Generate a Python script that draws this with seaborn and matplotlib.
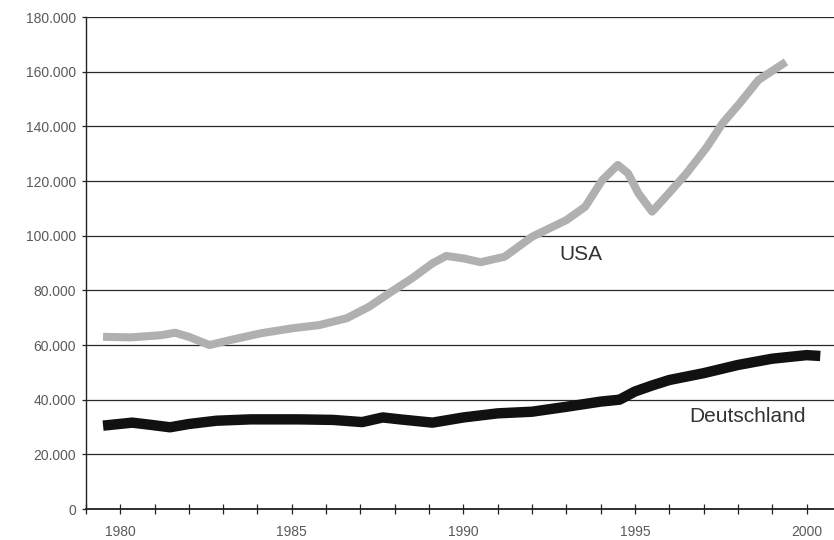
import matplotlib
matplotlib.use("Agg")
import matplotlib.pyplot as plt
import matplotlib.ticker as mticker
import seaborn as sns
import pandas as pd

usa_years = [1979.5, 1980.3, 1981.2, 1981.6, 1982.0, 1982.6, 1983.2, 1984.1, 1985.0, 1985.8,
             1986.6, 1987.25, 1987.9, 1988.5, 1989.1, 1989.5, 1990.0, 1990.5, 1991.2, 1992.0,
             1993.0, 1993.55, 1994.05, 1994.5, 1994.8, 1995.1, 1995.5, 1995.9, 1996.5, 1997.1,
             1997.55, 1998.05, 1998.6, 1999.4]
usa_values = [63000, 62800, 63600, 64500, 63000, 60000, 61800, 64300, 66100, 67300,
              69800, 74000, 79500, 84400, 89900, 92600, 91700, 90300, 92300, 99600,
              105700, 110600, 120400, 125900, 122800, 115500, 108800, 114300, 122800, 132500,
              141100, 148400, 157000, 163600]

de_years = [1979.5, 1980.35, 1980.95, 1981.45, 1982.0, 1982.8, 1983.8, 1985.2, 1986.2, 1987.05,
            1987.65, 1988.15, 1988.7, 1989.1, 1990.0, 1991.0, 1992.0, 1993.0, 1994.0, 1994.55,
            1995.0, 1995.5, 1996.0, 1997.0, 1998.0, 1999.0, 2000.0, 2000.4]
de_values = [30500, 31600, 30700, 29900, 31100, 32300, 32800, 32800, 32600, 31800,
             33500, 32800, 32100, 31600, 33500, 35000, 35600, 37400, 39300, 40000,
             43000, 45200, 47200, 49700, 52700, 55000, 56300, 56000]

series_names = ["USA", "Deutschland"]
y_ticks = list(range(0, 180001, 20000))
x_label_years = [1980, 1985, 1990, 1995, 2000]
x_minor_years = list(range(1979, 2001))

df = pd.concat([
    pd.DataFrame({"Jahr": usa_years, "Wert": usa_values, "Land": series_names[0]}),
    pd.DataFrame({"Jahr": de_years, "Wert": de_values, "Land": series_names[1]}),
])

sns.set_style("white")
plt.rcParams["font.family"] = ["Liberation Sans", "DejaVu Sans"]

fig = plt.figure(figsize=(8.34, 5.40), dpi=100)
ax = fig.add_axes([0.103, 0.0574, 0.897, 0.911])

# gridlines
for v in y_ticks:
    ax.axhline(v, color="#2a2a2a", lw=0.9, zorder=1)

sns.lineplot(data=df[df["Land"] == "USA"], x="Jahr", y="Wert", ax=ax,
             color="#b0b0b0", lw=5.8, estimator=None, sort=True, zorder=3,
             solid_capstyle="butt", solid_joinstyle="round", legend=False)
sns.lineplot(data=df[df["Land"] == "Deutschland"], x="Jahr", y="Wert", ax=ax,
             color="#111111", lw=7.5, estimator=None, sort=True, zorder=3,
             solid_capstyle="butt", solid_joinstyle="round", legend=False)

ax.set_xlim(1979, 2000.8)
ax.set_ylim(0, 180000)

ax.set_yticks(y_ticks)
ax.yaxis.set_major_formatter(mticker.FuncFormatter(lambda v, p: "0" if v == 0 else f"{int(v):,}".replace(",", ".")))
ax.set_xticks(x_minor_years)
ax.set_xticklabels([str(y) if y in x_label_years else "" for y in x_minor_years])

ax.tick_params(axis="y", direction="out", length=3, width=0.9, color="#222", pad=4,
               labelsize=10, labelcolor="#5a5a5a", left=True)
ax.tick_params(axis="x", direction="inout", length=7, width=0.9, color="#222", pad=8,
               labelsize=10, labelcolor="#5a5a5a", bottom=True)

for s in ["top", "right"]:
    ax.spines[s].set_visible(False)
ax.spines["left"].set_color("#222")
ax.spines["left"].set_linewidth(1.0)
ax.spines["bottom"].set_color("#222")
ax.spines["bottom"].set_linewidth(1.3)

ax.set_xlabel("")
ax.set_ylabel("")

ax.text(1993.42, 93300, "USA", fontsize=15, color="#333333", ha="center", va="center")
ax.text(1998.28, 34000, "Deutschland", fontsize=15, color="#333333", ha="center", va="center")

fig.savefig("out.png", dpi=100)
